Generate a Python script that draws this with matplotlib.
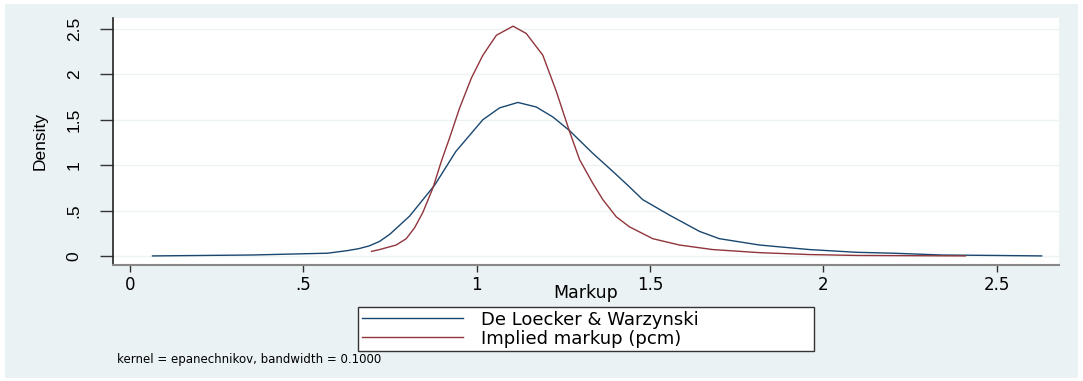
import matplotlib.pyplot as plt
from matplotlib.patches import Rectangle

# densidades (kdensity, epanechnikov)
dlw_x = [0.065, 0.35, 0.57, 0.63, 0.66, 0.69, 0.72, 0.75, 0.807, 0.879, 0.94, 1.018, 1.066,
         1.119, 1.172, 1.22, 1.268, 1.335, 1.393, 1.441, 1.479, 1.556, 1.643, 1.70,
         1.816, 1.873, 1.96, 2.095, 2.2, 2.343, 2.5, 2.63]
dlw_y = [0.0, 0.01, 0.03, 0.06, 0.08, 0.11, 0.16, 0.24, 0.44, 0.78, 1.15, 1.50, 1.63,
         1.69, 1.64, 1.53, 1.38, 1.13, 0.93, 0.76, 0.62, 0.45, 0.27, 0.19,
         0.12, 0.10, 0.07, 0.04, 0.03, 0.01, 0.005, 0.0]

pcm_x = [0.697, 0.72, 0.768, 0.797, 0.821, 0.845, 0.874, 0.898, 0.922, 0.951, 0.985, 1.018,
         1.057, 1.105, 1.143, 1.191, 1.23, 1.268, 1.297, 1.335, 1.364, 1.403, 1.441, 1.508,
         1.585, 1.681, 1.816, 1.96, 2.1, 2.41]
pcm_y = [0.05, 0.07, 0.12, 0.19, 0.31, 0.48, 0.75, 1.04, 1.30, 1.63, 1.96, 2.21,
         2.43, 2.53, 2.45, 2.21, 1.81, 1.37, 1.06, 0.80, 0.62, 0.43, 0.32, 0.19,
         0.12, 0.07, 0.036, 0.015, 0.005, 0.0]

xticks = [0, 0.5, 1, 1.5, 2, 2.5]
xtick_labels = ['0', '.5', '1', '1.5', '2', '2.5']
yticks = [0, 0.5, 1, 1.5, 2, 2.5]
ytick_labels = ['0', '.5', '1', '1.5', '2', '2.5']

labels = ['De Loecker & Warzynski', 'Implied markup (pcm)']
bg = '#EAF2F3'
narrow = ['Liberation Sans Narrow', 'Liberation Sans', 'DejaVu Sans']

fig = plt.figure(figsize=(10.83, 3.81), dpi=100, facecolor='white')
fig.patches.append(Rectangle((5 / 1083, 3 / 381), 1073 / 1083, 374 / 381,
                             transform=fig.transFigure, facecolor=bg,
                             edgecolor='none', zorder=-10))

ax = fig.add_axes([113 / 1083, 1 - 265 / 381, 946 / 1083, 247 / 381])
ax.set_facecolor('white')

ax.plot(dlw_x, dlw_y, color='#1A476F', lw=1.0, label=labels[0])
ax.plot(pcm_x, pcm_y, color='#90353B', lw=1.0, label=labels[1])

ax.set_xlim(-0.049, 2.68)
ax.set_ylim(-0.1, 2.62)
ax.set_xticks(xticks)
ax.set_xticklabels(xtick_labels, fontsize=12, family='DejaVu Sans')
ax.set_yticks(yticks)
ax.set_yticklabels(ytick_labels, fontsize=12.5, family=narrow, rotation=90, va='center')
ax.tick_params(axis='x', length=5, width=1, pad=3, color='#333333')
ax.tick_params(axis='y', length=9.5, width=1, pad=13, color='#333333')

for y in yticks:
    ax.axhline(y, color='#EDF3F3', lw=1, zorder=0)

for s in ['top', 'right']:
    ax.spines[s].set_visible(False)
ax.spines['left'].set_color('#222222')
ax.spines['bottom'].set_color('#888888')
ax.spines['left'].set_linewidth(1.2)
ax.spines['bottom'].set_linewidth(1.5)

ax.set_ylabel('Density', fontsize=12.5, family=narrow)
ax.yaxis.set_label_coords(-0.069, 0.5)
ax.set_xlabel('Markup', fontsize=12.5, family='DejaVu Sans')
ax.xaxis.label.set_va('center')
ax.xaxis.set_label_coords(0.5, -0.113)

fig.legend(loc='upper left', bbox_to_anchor=(358 / 1083, 1 - 350 / 381, 456 / 1083, 43 / 381),
           mode='expand', ncol=1, frameon=True, fancybox=False, edgecolor='#333333',
           facecolor='white', framealpha=1, prop={'family': 'DejaVu Sans', 'size': 13},
           handlelength=5.6, handletextpad=1.0, labelspacing=0.05, borderpad=0.2,
           borderaxespad=0)

fig.text(117 / 1083, 1 - 360 / 381, 'kernel = epanechnikov, bandwidth = 0.1000',
         fontsize=8.5, family='DejaVu Sans', va='center', ha='left')

fig.savefig('out.png', dpi=100, facecolor='white')
